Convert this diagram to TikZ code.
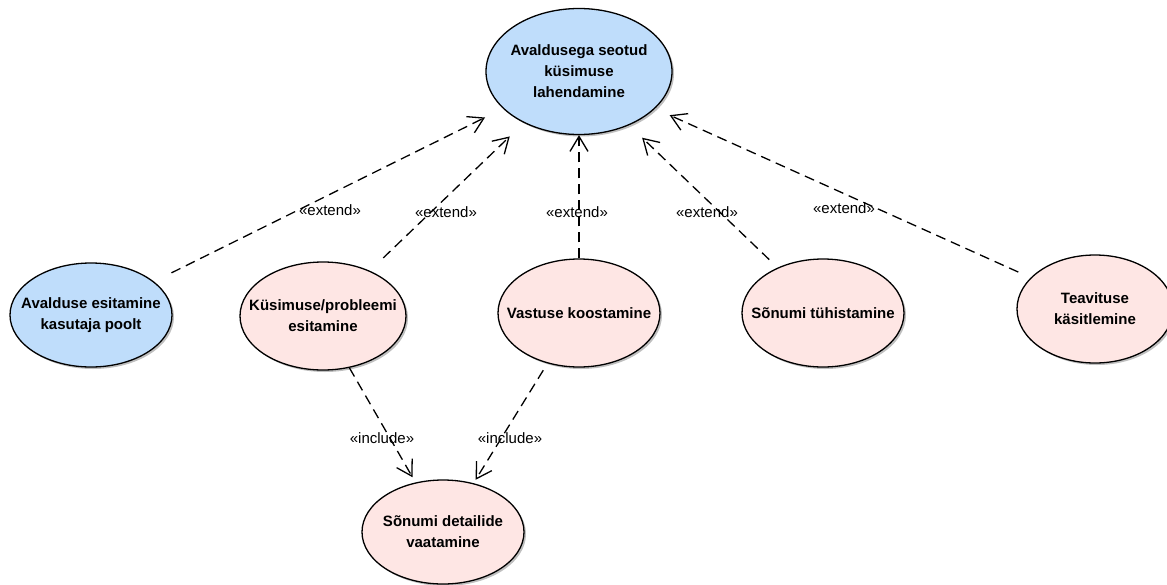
\documentclass[tikz,border=0pt]{standalone}
\usepackage{fontspec}
\setmainfont{Liberation Sans}
\usetikzlibrary{shapes.geometric,arrows.meta,shadows}
\definecolor{ucblue}{RGB}{191,221,251}
\definecolor{ucpink}{RGB}{254,230,228}
\tikzset{
  uc/.style={ellipse, draw=black, line width=1.3pt, inner sep=0pt,
    drop shadow={shadow xshift=2pt, shadow yshift=-2pt, fill=black, opacity=0.25}},
  ucb/.style={uc, fill=ucblue},
  ucp/.style={uc, fill=ucpink},
  uct/.style={align=center, inner sep=0pt, font=\fontsize{15}{21}\selectfont\bfseries},
  rel/.style={draw=black, line width=1.3pt, dash pattern=on 10pt off 6pt,
    -{Straight Barb[length=15pt,width=18pt,line width=1.3pt]}},
  lbl/.style={font=\fontsize{15}{18}\selectfont, inner sep=0pt}
}
\begin{document}
\begin{tikzpicture}[x=1pt,y=-1pt]
\useasboundingbox (0,0) rectangle (1167,584);
\clip (0,0) rectangle (1167,584);
\node[ucb, minimum width=186pt, minimum height=126pt, label={[uct]center:{Avaldusega seotud\\küsimuse\\lahendamine}}] (top) at (579,71.5) {};
\node[ucb, minimum width=162pt, minimum height=104pt, label={[uct]center:{Avalduse esitamine\\kasutaja poolt}}] (avk) at (91,315) {};
\node[ucp, minimum width=166pt, minimum height=108pt, label={[uct]center:{Küsimuse/probleemi\\esitamine}}] (kp) at (323,316) {};
\node[ucp, minimum width=162pt, minimum height=108pt, label={[uct]center:{Vastuse koostamine}}] (vk) at (579,313) {};
\node[ucp, minimum width=162pt, minimum height=108pt, label={[uct]center:{Sõnumi tühistamine}}] (st) at (823,313) {};
\node[ucp, minimum width=156pt, minimum height=108pt, label={[uct]center:{Teavituse\\käsitlemine}}] (tk) at (1095,309) {};
\node[ucp, minimum width=162pt, minimum height=104pt, label={[uct]center:{Sõnumi detailide\\vaatamine}}] (sdv) at (443,532) {};

\draw[rel, shorten <=19.5pt, shorten >=20pt] (avk.28.6) -- (top.206.6);
\draw[rel, shorten <=18.5pt, shorten >=19.5pt] (kp.44.5) -- (top.223.5);
\draw[rel] (vk.north) -- (top.south);
\draw[rel, shorten <=11.5pt, shorten >=18pt] (st.135) -- (top.313.9);
\draw[rel, shorten <=13.5pt, shorten >=16pt] (tk.154.9) -- (top.334.2);
\draw[rel, shorten >=6pt] (kp.297.4) -- (sdv.119.9);
\draw[rel, shorten <=8pt, shorten >=4pt] (vk.238.4) -- (sdv.58.4);

\node[lbl] (l1) at (330,210) {«extend»};
\node[lbl] (l2) at (446,212) {«extend»};
\node[lbl] (l3) at (577,212) {«extend»};
\node[lbl] (l4) at (707,212) {«extend»};
\node[lbl] (l5) at (844,208) {«extend»};
\node[lbl] (l6) at (382,438) {«include»};
\node[lbl] (l7) at (510,438) {«include»};
\end{tikzpicture}
\end{document}
